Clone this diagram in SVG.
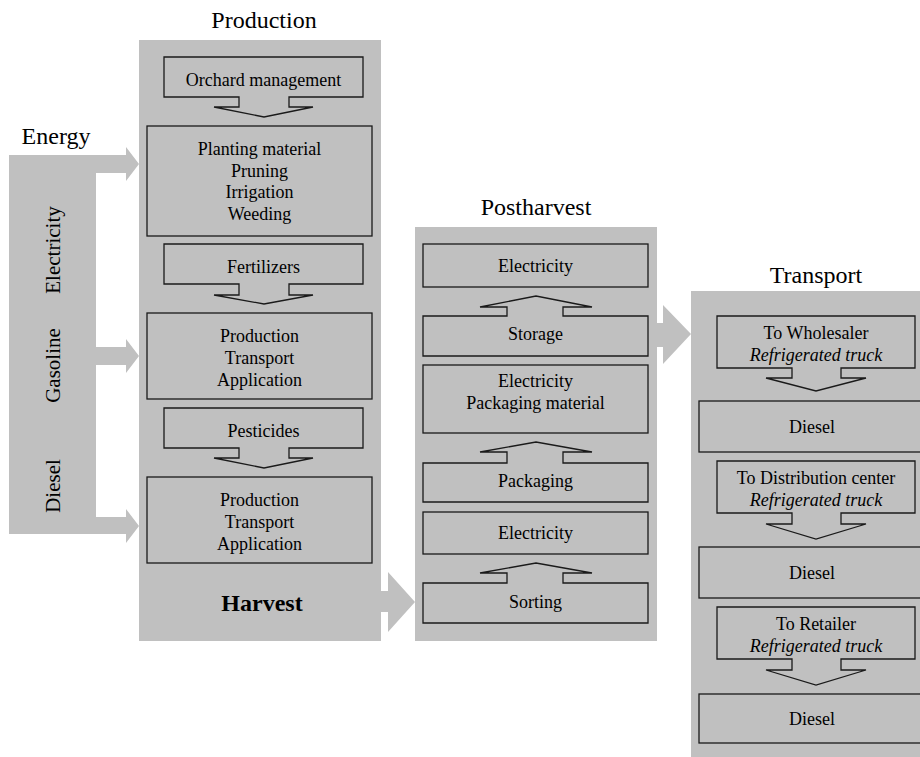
<svg xmlns="http://www.w3.org/2000/svg" width="920" height="757" viewBox="0 0 920 757">
<style>
text{font-family:'Liberation Serif',Tinos,'Times New Roman',Times,'DejaVu Serif',serif;fill:#000;text-anchor:middle}
.t{font-size:18px}
.h{font-size:24px}
.v{font-size:21px}
.b{font-size:24px;font-weight:bold}
.i{font-style:italic}
.panel{fill:#c0c0c0}
.arr{fill:#c0c0c0}
.box{fill:none;stroke:#1a1a1a;stroke-width:1.3;stroke-linejoin:miter}
</style>
<rect width="920" height="757" fill="#fff"/>

<g id="energy">
<path class="panel" d="M9,155 H126 V147 L139,164 L126,181 V173 H96 V347 H126 V339 L139,356 L126,373 V365 H96 V517 H126 V509 L139,526 L126,543 V534 H9 Z"/>
<text class="h" x="56" y="144" font-family="Liberation Serif, serif">Energy</text>
<text class="v" transform="translate(59.5,250) rotate(-90)">Electricity</text>
<text class="v" transform="translate(59.5,365.5) rotate(-90)">Gasoline</text>
<text class="v" transform="translate(59.5,486) rotate(-90)">Diesel</text>
</g>

<g id="production">
<rect class="panel" x="139" y="40" width="242" height="601"/>
<text class="h" x="264" y="28">Production</text>
</g>

<g id="postharvest">
<rect class="panel" x="415" y="227" width="242" height="414"/>
<text class="h" x="536" y="215">Postharvest</text>
</g>

<g id="transport">
<rect class="panel" x="691" y="291" width="250" height="480"/>
<text class="h" x="816" y="283">Transport</text>
</g>

<g id="connectors">
<path class="arr" d="M381,591 H388 V572 L415,602 L388,632 V612 H381 Z"/>
<path class="arr" d="M657,323 H663 V305 L691,334 L663,364 V347 H657 Z"/>
</g>

<g id="orchard">
<path class="box" d="M164,57 H363 V97 H289 V107 H313 L264,117 L214,107 H239 V97 H164 Z"/>
<text class="t" x="263.5" y="86">Orchard management</text>
</g>
<g id="planting">
<rect class="box" x="147" y="126" width="225" height="110"/>
<text class="t" x="259.5" y="155">Planting material</text>
<text class="t" x="259.5" y="177">Pruning</text>
<text class="t" x="259.5" y="198">Irrigation</text>
<text class="t" x="259.5" y="220">Weeding</text>
</g>
<g id="fertilizers">
<path class="box" d="M164,244 H363 V284 H289 V295 H313 L264,304 L214,295 H239 V284 H164 Z"/>
<text class="t" x="263.5" y="273">Fertilizers</text>
</g>
<g id="fert-use">
<rect class="box" x="147" y="313" width="225" height="86"/>
<text class="t" x="259.5" y="342">Production</text>
<text class="t" x="259.5" y="364">Transport</text>
<text class="t" x="259.5" y="386">Application</text>
</g>
<g id="pesticides">
<path class="box" d="M164,408 H363 V448 H289 V458 H313 L264,468 L214,458 H239 V448 H164 Z"/>
<text class="t" x="263.5" y="437">Pesticides</text>
</g>
<g id="pest-use">
<rect class="box" x="147" y="477" width="225" height="86"/>
<text class="t" x="259.5" y="506">Production</text>
<text class="t" x="259.5" y="528">Transport</text>
<text class="t" x="259.5" y="550">Application</text>
</g>
<g id="harvest">
<text class="b" x="262" y="611">Harvest</text>
</g>

<g id="ph-electricity-1">
<rect class="box" x="423" y="244" width="225" height="43"/>
<text class="t" x="535.5" y="271.5">Electricity</text>
</g>
<g id="storage">
<path class="box" d="M423,356 V316 H507 V307 H480 L536,296 L592,307 H563 V316 H648 V356 Z"/>
<text class="t" x="535.5" y="340">Storage</text>
</g>
<g id="ph-electricity-packmat">
<rect class="box" x="423" y="365" width="225" height="68"/>
<text class="t" x="535.5" y="387">Electricity</text>
<text class="t" x="535.5" y="408.5">Packaging material</text>
</g>
<g id="packaging">
<path class="box" d="M423,502 V463 H507 V452 H480 L536,442 L592,452 H563 V463 H648 V502 Z"/>
<text class="t" x="535.5" y="487">Packaging</text>
</g>
<g id="ph-electricity-2">
<rect class="box" x="423" y="512" width="225" height="42"/>
<text class="t" x="535.5" y="538.5">Electricity</text>
</g>
<g id="sorting">
<path class="box" d="M423,623 V583 H507 V573 H480 L536,563 L592,573 H563 V583 H648 V623 Z"/>
<text class="t" x="535.5" y="608">Sorting</text>
</g>

<g id="to-wholesaler">
<path class="box" d="M717,316 H915 V368 H841 V378 H866 L816,391 L766,378 H792 V368 H717 Z"/>
<text class="t" x="816" y="339">To Wholesaler</text>
<text class="t i" x="816" y="361">Refrigerated truck</text>
</g>
<g id="diesel-1">
<rect class="box" x="699" y="401" width="240" height="51"/>
<text class="t" x="812" y="433">Diesel</text>
</g>
<g id="to-distribution">
<path class="box" d="M717,461 H915 V513 H841 V524 H866 L816,539 L766,524 H792 V513 H717 Z"/>
<text class="t" x="816" y="484">To Distribution center</text>
<text class="t i" x="816" y="506">Refrigerated truck</text>
</g>
<g id="diesel-2">
<rect class="box" x="699" y="547" width="240" height="51"/>
<text class="t" x="812" y="579">Diesel</text>
</g>
<g id="to-retailer">
<path class="box" d="M717,607 H915 V659 H841 V670 H866 L816,685 L766,670 H792 V659 H717 Z"/>
<text class="t" x="816" y="630">To Retailer</text>
<text class="t i" x="816" y="652">Refrigerated truck</text>
</g>
<g id="diesel-3">
<rect class="box" x="699" y="694" width="240" height="49"/>
<text class="t" x="812" y="725">Diesel</text>
</g>
</svg>
